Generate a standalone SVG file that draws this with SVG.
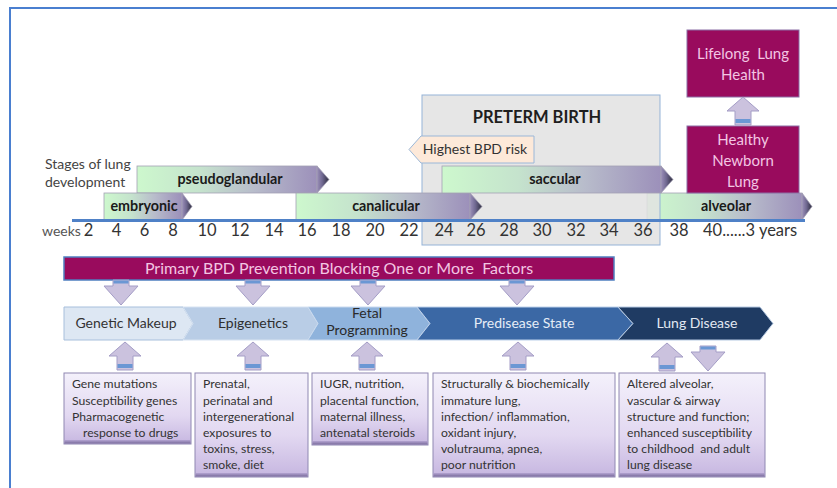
<svg xmlns="http://www.w3.org/2000/svg" width="837" height="488" viewBox="0 0 837 488">
  <style>
    text { font-family: Lato, "Liberation Sans", Arial, sans-serif; white-space: pre; }
    .num { font-size: 16.5px; fill: #333; text-anchor: middle; }
    .lbl { font-size: 14px; fill: #444; }
    .stage { font-size: 14.3px; font-weight: bold; fill: #1a1a1a; text-anchor: middle; }
    .barbody { stroke: #a3a0b4; stroke-width: 0.8; }
    .tip { fill: url(#tipGrad); stroke: #a3a0b4; stroke-width: 0.8; }
    .magenta { fill: #990b5d; }
    .pink { font-size: 15px; fill: #f3c6e3; text-anchor: middle; }
    .chev-t { font-size: 14px; text-anchor: middle; }
    .arrow { fill: #cbc2de; stroke: #a49dc6; stroke-width: 1; }
    .band { fill: #6b97d4; }
    .box { fill: url(#boxGrad); stroke: #8f88b2; stroke-width: 1; }
    .boxshade { fill: url(#shadeGrad); }
    .bt { font-size: 12.2px; fill: #333; }
  </style>
  <defs>
    <linearGradient id="barGrad" x1="0" y1="0" x2="1" y2="0">
      <stop offset="0" stop-color="#cdf8cd"/>
      <stop offset="0.35" stop-color="#c5e3cd"/>
      <stop offset="0.65" stop-color="#b8bccb"/>
      <stop offset="1" stop-color="#9c90ba"/>
    </linearGradient>
    <linearGradient id="tipGrad" x1="0" y1="0" x2="1" y2="0">
      <stop offset="0" stop-color="#9c90ba"/>
      <stop offset="0.45" stop-color="#6f6890"/>
      <stop offset="1" stop-color="#2c2c3c"/>
    </linearGradient>
    <linearGradient id="boxGrad" x1="0" y1="0" x2="0" y2="1">
      <stop offset="0" stop-color="#f4f1fb"/>
      <stop offset="0.6" stop-color="#e2d8f1"/>
      <stop offset="1" stop-color="#c6b6e0"/>
    </linearGradient>
    <linearGradient id="shadeGrad" x1="0" y1="0" x2="0" y2="1">
      <stop offset="0" stop-color="#b4a4d2"/>
      <stop offset="1" stop-color="#7a6c9c"/>
    </linearGradient>
    <!-- block arrows, drawn around a centre x of 0 -->
    <g id="downArrow">
      <path class="arrow" d="M-8,0 H8 V6 H17 L0,25 L-17,6 H-8 Z"/>
      <rect class="band" x="-7.5" y="0.5" width="15" height="3"/>
    </g>
    <g id="upArrow">
      <path class="arrow" d="M0,0 L16,14 H8 V28 H-8 V14 H-16 Z"/>
      <rect class="band" x="-7.5" y="22" width="15" height="4"/>
    </g>
  </defs>

  <!-- frame -->
  <path d="M10,488 V8 H837" fill="none" stroke="#4a7fd0" stroke-width="2"/>

  <!-- alveolar stage sits beneath the preterm panel -->
  <g id="stage-alveolar">
    <rect class="barbody" x="647" y="193" width="155" height="27" fill="url(#barGrad)"/>
    <polygon class="tip" points="802,193 812,206.5 802,220"/>
    <text class="stage" x="726" y="211">alveolar</text>
  </g>

  <!-- preterm birth panel -->
  <g id="preterm-birth">
    <rect x="422" y="95" width="238" height="150" fill="#e2e2e2" fill-opacity="0.85" stroke="#95b3d7" stroke-width="1"/>
    <text x="537" y="123" style="font-size:16.5px;font-weight:bold;fill:#1e1e1e;text-anchor:middle">PRETERM BIRTH</text>
  </g>

  <g id="highest-risk">
    <polygon points="409,149.5 421,136 534,136 534,163 421,163" fill="#fde9d9" stroke="#9ab7d8" stroke-width="1"/>
    <text x="475" y="154" style="font-size:14px;fill:#333;text-anchor:middle">Highest BPD risk</text>
  </g>

  <!-- lung development stages -->
  <g id="stage-label">
    <text class="lbl" x="45" y="169">Stages of lung</text>
    <text class="lbl" x="45" y="187">development</text>
  </g>
  <g id="stage-pseudoglandular">
    <rect class="barbody" x="137" y="166" width="180" height="27" fill="url(#barGrad)"/>
    <polygon class="tip" points="317,166 329,179.5 317,193"/>
    <text class="stage" x="230" y="184">pseudoglandular</text>
  </g>
  <g id="stage-embryonic">
    <rect class="barbody" x="104" y="193" width="78" height="27" fill="url(#barGrad)"/>
    <polygon class="tip" points="182,193 192,206.5 182,220"/>
    <text class="stage" x="144" y="211">embryonic</text>
  </g>
  <g id="stage-canalicular">
    <rect class="barbody" x="296" y="193" width="174" height="27" fill="url(#barGrad)"/>
    <polygon class="tip" points="470,193 482,206.5 470,220"/>
    <text class="stage" x="386" y="211">canalicular</text>
  </g>
  <g id="stage-saccular">
    <rect class="barbody" x="442" y="166" width="219" height="27" fill="url(#barGrad)"/>
    <polygon class="tip" points="661,166 673,179.5 661,193"/>
    <text class="stage" x="555" y="184">saccular</text>
  </g>

  <!-- time axis -->
  <g id="axis">
    <line x1="72" y1="220.5" x2="805" y2="220.5" stroke="#4f81c7" stroke-width="3"/>
    <text x="42" y="236" style="font-size:14px;fill:#555">weeks</text>
    <text class="num" x="88.5" y="236">2</text>
    <text class="num" x="116.5" y="236">4</text>
    <text class="num" x="144.5" y="236">6</text>
    <text class="num" x="173" y="236">8</text>
    <text class="num" x="207" y="236">10</text>
    <text class="num" x="240" y="236">12</text>
    <text class="num" x="274" y="236">14</text>
    <text class="num" x="307" y="236">16</text>
    <text class="num" x="341" y="236">18</text>
    <text class="num" x="375" y="236">20</text>
    <text class="num" x="409" y="236">22</text>
    <text class="num" x="444" y="236">24</text>
    <text class="num" x="476" y="236">26</text>
    <text class="num" x="509" y="236">28</text>
    <text class="num" x="542" y="236">30</text>
    <text class="num" x="576" y="236">32</text>
    <text class="num" x="609" y="236">34</text>
    <text class="num" x="643" y="236">36</text>
    <text class="num" x="679" y="236">38</text>
    <text class="num" x="703" y="236" style="text-anchor:start">40......3 years</text>
  </g>

  <!-- outcome boxes -->
  <g id="lifelong-health">
    <rect class="magenta" x="687" y="30" width="112" height="67" stroke="#8b6fa6" stroke-width="1"/>
    <text class="pink" x="743" y="59">Lifelong  Lung</text>
    <text class="pink" x="743" y="80">Health</text>
  </g>
  <g id="healthy-newborn">
    <rect class="magenta" x="687" y="126" width="112" height="67" stroke="#8b6fa6" stroke-width="1"/>
    <text class="pink" x="743" y="145">Healthy</text>
    <text class="pink" x="743" y="166">Newborn</text>
    <text class="pink" x="743" y="187">Lung</text>
  </g>

  <!-- prevention banner -->
  <g id="prevention">
    <rect class="magenta" x="64" y="257" width="550" height="23" stroke="#4f7fc0" stroke-width="1.5"/>
    <text class="pink" x="339" y="274" style="font-size:16px">Primary BPD Prevention Blocking One or More  Factors</text>
  </g>

  <!-- progression chevrons -->
  <g id="genetic-makeup">
    <polygon points="64,307 183,307 193,323.5 183,340 64,340" fill="#dde7f3" stroke="#a7bfdc" stroke-width="1"/>
    <text class="chev-t" x="126" y="328" fill="#333">Genetic Makeup</text>
  </g>
  <g id="epigenetics">
    <polygon points="183,307 308,307 318,323.5 308,340 183,340 193,323.5" fill="#b9cde6" stroke="#d6e2f1" stroke-width="1"/>
    <text class="chev-t" x="253" y="328" fill="#2e2e2e">Epigenetics</text>
  </g>
  <g id="fetal-programming">
    <polygon points="308,307 417,307 430,323.5 417,340 308,340 318,323.5" fill="#8fb3dc" stroke="#c8d9ee" stroke-width="1"/>
    <text class="chev-t" x="367" y="318" fill="#2a2a2a">Fetal</text>
    <text class="chev-t" x="367" y="335" fill="#2a2a2a">Programming</text>
  </g>
  <g id="predisease">
    <polygon points="417,307 618,307 633,323.5 618,340 417,340 430,323.5" fill="#3b68a5" stroke="#bcd0ea" stroke-width="1"/>
    <text class="chev-t" x="524" y="328" fill="#e6edf7">Predisease State</text>
  </g>
  <g id="lung-disease">
    <polygon points="618,307 760,307 773,323.5 760,340 618,340 633,323.5" fill="#1f3b63" stroke="#b6c9e2" stroke-width="1"/>
    <text class="chev-t" x="697" y="328" fill="#e2e8f2">Lung Disease</text>
  </g>

  <!-- factor boxes -->
  <g id="genetic-factors">
    <rect class="box" x="64" y="373" width="127" height="71"/>
    <rect class="boxshade" x="64.5" y="440" width="126" height="3.5"/>
    <text class="bt" x="72" y="388">Gene mutations</text>
    <text class="bt" x="72" y="404.5">Susceptibility genes</text>
    <text class="bt" x="72" y="421">Pharmacogenetic</text>
    <text class="bt" x="83" y="437">response to drugs</text>
  </g>
  <g id="epigenetic-factors">
    <rect class="box" x="195" y="373" width="113" height="104"/>
    <rect class="boxshade" x="195.5" y="473" width="112" height="3.5"/>
    <text class="bt" x="203" y="388">Prenatal,</text>
    <text class="bt" x="203" y="404.5">perinatal and</text>
    <text class="bt" x="203" y="421">intergenerational</text>
    <text class="bt" x="203" y="437">exposures to</text>
    <text class="bt" x="203" y="453">toxins, stress,</text>
    <text class="bt" x="203" y="469">smoke, diet</text>
  </g>
  <g id="fetal-factors">
    <rect class="box" x="312" y="373" width="116" height="72"/>
    <rect class="boxshade" x="312.5" y="441" width="115" height="3.5"/>
    <text class="bt" x="320" y="388">IUGR, nutrition,</text>
    <text class="bt" x="320" y="404.5">placental function,</text>
    <text class="bt" x="320" y="421">maternal illness,</text>
    <text class="bt" x="320" y="437">antenatal steroids</text>
  </g>
  <g id="predisease-factors">
    <rect class="box" x="433" y="373" width="182" height="104"/>
    <rect class="boxshade" x="433.5" y="473" width="181" height="3.5"/>
    <text class="bt" x="441" y="388">Structurally &amp; biochemically</text>
    <text class="bt" x="441" y="404.5">immature lung,</text>
    <text class="bt" x="441" y="421">infection/ inflammation,</text>
    <text class="bt" x="441" y="437">oxidant injury,</text>
    <text class="bt" x="441" y="453">volutrauma, apnea,</text>
    <text class="bt" x="441" y="469">poor nutrition</text>
  </g>
  <g id="disease-outcomes">
    <rect class="box" x="619" y="373" width="146" height="104"/>
    <rect class="boxshade" x="619.5" y="473" width="145" height="3.5"/>
    <text class="bt" x="627" y="388">Altered alveolar,</text>
    <text class="bt" x="627" y="404.5">vascular &amp; airway</text>
    <text class="bt" x="627" y="421">structure and function;</text>
    <text class="bt" x="627" y="437">enhanced susceptibility</text>
    <text class="bt" x="627" y="453">to childhood  and adult</text>
    <text class="bt" x="627" y="469">lung disease</text>
  </g>

  <!-- connectors -->
  <g id="connectors">
    <use href="#upArrow" x="743" y="97"/>
    <use href="#downArrow" x="121" y="280"/>
    <use href="#downArrow" x="253" y="280"/>
    <use href="#downArrow" x="368" y="280"/>
    <use href="#downArrow" x="517" y="280"/>
    <use href="#upArrow" x="125" y="342"/>
    <use href="#upArrow" x="253" y="342"/>
    <use href="#upArrow" x="367" y="342"/>
    <use href="#upArrow" x="518" y="342"/>
    <use href="#upArrow" x="667" y="343"/>
    <use href="#downArrow" x="708" y="346"/>
  </g>
</svg>
